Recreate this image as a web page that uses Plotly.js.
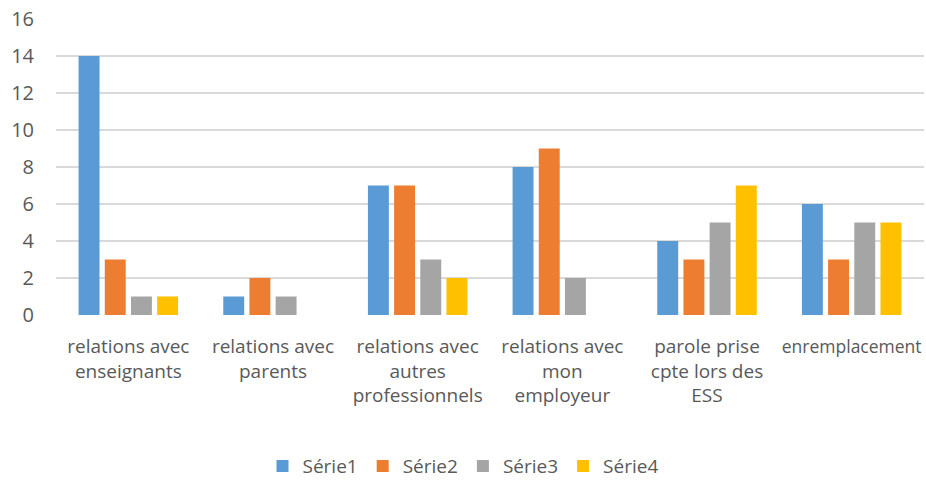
<!DOCTYPE html>
<html><head><meta charset="utf-8">
<script src="https://cdn.plot.ly/plotly-3.0.1.min.js"></script>
<style>html,body{margin:0;padding:0;background:#fff;}</style>
</head><body>
<div id="chart" style="width:926px;height:482px;"></div>
<script>
const categories = [
  "relations avec enseignants",
  "relations avec parents",
  "relations avec autres professionnels",
  "relations avec mon employeur",
  "parole prise cpte lors des ESS",
  "enremplacement"
];
const tickLabels = [
  "relations avec<br>enseignants",
  "relations avec<br>parents",
  "relations avec<br>autres<br>professionnels",
  "relations avec<br>mon<br>employeur",
  "parole prise<br>cpte lors des<br>ESS",
  "<span style=\"font-size:17.5px\">enremplacement</span>"
];
const serie1 = [14, 1, 7, 8, 4, 6];
const serie2 = [3, 2, 7, 9, 3, 3];
const serie3 = [1, 1, 3, 2, 5, 5];
const serie4 = [1, null, 2, null, 7, 5];
const seriesNames = ["Série1", "Série2", "Série3", "Série4"];
const colors = ["#5B9BD5", "#ED7D31", "#A5A5A5", "#FFC000"];
const yTicks = [0, 2, 4, 6, 8, 10, 12, 14, 16];

const allSeries = [serie1, serie2, serie3, serie4];
const traces = allSeries.map((s, i) => ({
  type: "bar", x: categories, y: s, name: seriesNames[i],
  marker: {color: colors[i]}, hoverinfo: "none"
}));

const font = {family: "'Open Sans', 'Noto Sans', sans-serif", color: "#595959"};
Plotly.newPlot("chart", traces, {
  width: 926, height: 482,
  margin: {l: 56, r: 2, t: 19, b: 167},
  barmode: "group", bargap: 0.276, bargroupgap: 0.2,
  paper_bgcolor: "#fff", plot_bgcolor: "#fff",
  font: Object.assign({size: 16}, font),
  xaxis: {tickvals: categories, ticktext: tickLabels,
          tickfont: Object.assign({size: 19}, font), showgrid: false, zeroline: false,
          showline: false, ticks: "", ticklabelstandoff: 18, automargin: false},
  yaxis: {range: [0, 16], tickvals: yTicks, ticktext: yTicks.map(String),
          tickfont: Object.assign({size: 20}, font), showgrid: true, gridcolor: "#D9D9D9",
          gridwidth: 1.3, zeroline: false, showline: false, ticks: "", ticklabelstandoff: 21,
          automargin: false},
  showlegend: true,
  legend: {orientation: "h", x: 0.5, xanchor: "center", xref: "container",
           y: 0.033, yanchor: "middle", yref: "container",
           font: Object.assign({size: 19}, font), itemwidth: 30, traceorder: "normal"}
}, {displayModeBar: false, staticPlot: true});
</script>
</body></html>
